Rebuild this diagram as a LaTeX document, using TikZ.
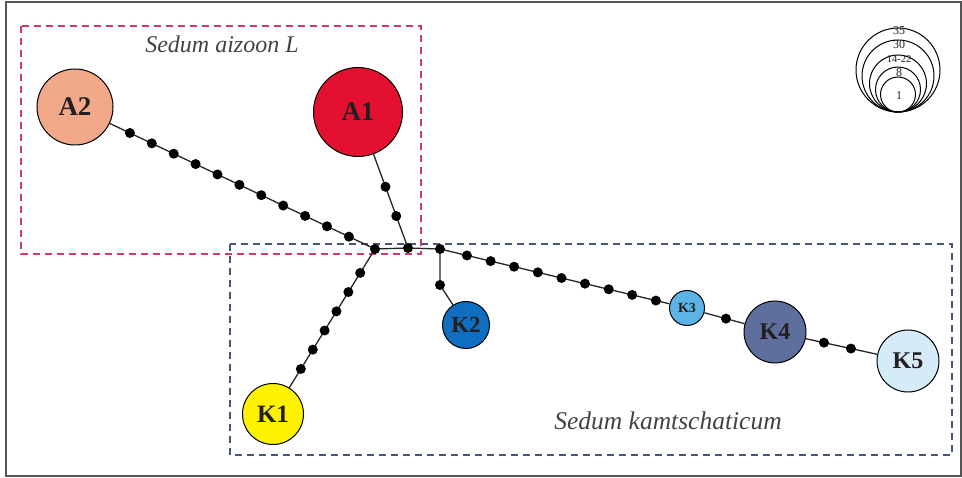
\documentclass[tikz,border=0pt]{standalone}
\usepackage{fontspec}
\setmainfont{Liberation Serif}
\usetikzlibrary{calc}
\definecolor{cA2}{HTML}{F2A98A}
\definecolor{cA1}{HTML}{E3112F}
\definecolor{cK1}{HTML}{FFF200}
\definecolor{cK2}{HTML}{0F6EBF}
\definecolor{cK3}{HTML}{5BB4E5}
\definecolor{cK4}{HTML}{5E6F9E}
\definecolor{cK5}{HTML}{D5EBF7}
\definecolor{dashred}{RGB}{205,60,105}
\definecolor{dashblue}{RGB}{75,85,120}
\definecolor{framec}{HTML}{555555}
\definecolor{txt}{HTML}{231F20}
\tikzset{
  hap/.style={circle,draw=black,line width=1pt,inner sep=0pt,text=txt,font=\bfseries},
  dot/.style={circle,fill=black,inner sep=0pt,minimum size=10pt},
  edge/.style={draw=black!85,line width=1.3pt},
  legc/.style={draw=black,line width=1pt},
  legt/.style={font=\fontsize{12}{12}\selectfont,text=txt,inner sep=0pt},
  species/.style={font=\itshape\fontsize{24}{24}\selectfont,text=txt!85},
  boxline/.style={line width=1.3pt,dash pattern=on 7pt off 5pt}
}
\begin{document}
\begin{tikzpicture}[x=1pt,y=-1pt]
\useasboundingbox (0,0) rectangle (962,478);
\draw[draw=framec,line width=1.5pt] (6,2) rectangle (961,476);
% species boxes
\draw[boxline,color=dashred] (21,26) rectangle (421,254);
\draw[boxline,color=dashblue] (230,244) rectangle (952,455);
\node[species] (sa) at (222,44) {Sedum aizoon L};
\node[species,font=\itshape\fontsize{25.5}{25.5}\selectfont] (sk) at (668,421) {Sedum kamtschaticum};
% haplotypes
\node[hap,fill=cA2,minimum size=76pt,font=\bfseries\fontsize{27}{27}\selectfont] (A2) at (75,107) {A2};
\node[hap,fill=cA1,minimum size=89pt,font=\bfseries\fontsize{27}{27}\selectfont] (A1) at (358,112) {A1};
\node[hap,fill=cK1,minimum size=61pt,font=\bfseries\fontsize{25}{25}\selectfont] (K1) at (273,414) {K1};
\node[hap,fill=cK2,minimum size=47pt,font=\bfseries\fontsize{23}{23}\selectfont] (K2) at (466,325) {K2};
\node[hap,fill=cK3,minimum size=35pt,font=\bfseries\fontsize{14}{14}\selectfont] (K3) at (687,308) {K3};
\node[hap,fill=cK4,minimum size=62pt,font=\bfseries\fontsize{24}{24}\selectfont] (K4) at (775,332) {K4};
\node[hap,fill=cK5,minimum size=62pt,font=\bfseries\fontsize{24}{24}\selectfont] (K5) at (908,361) {K5};
% hubs
\coordinate (h1) at (375,249);
\coordinate (h2) at (408,248);
\coordinate (h3) at (440,249);
\coordinate (k2d) at (440,285);
% connectors
\draw[edge] (A2) -- (h1);
\draw[edge] (A1) -- (h2);
\draw[edge] (h1) -- (h2) -- (h3);
\draw[edge] (h1) -- (K1);
\draw[edge] (h3) -- (k2d) -- (K2);
\draw[edge] (h3) -- (K3);
\draw[edge] (K3) -- (K4);
\draw[edge] (K4) -- (K5);
% dots
\node[dot] (n1) at (h1) {};
\node[dot] (n2) at (h2) {};
\node[dot] (n3) at (h3) {};
\node[dot] (n4) at (k2d) {};
\foreach \t [count=\i] in {0.183,0.256,0.329,0.402,0.475,0.548,0.621,0.694,0.767,0.840,0.913}
  \node[dot] (a2d\i) at ($(A2.center)!\t!(h1)$) {};
\foreach \t [count=\i] in {0.55,0.765}
  \node[dot] (a1d\i) at ($(A1.center)!\t!(h2)$) {};
\foreach \t [count=\i] in {0.145,0.261,0.378,0.494,0.610,0.727}
  \node[dot] (k1d\i) at ($(h1)!\t!(K1.center)$) {};
\foreach \t [count=\i] in {0.109,0.205,0.300,0.396,0.492,0.587,0.683,0.778,0.874}
  \node[dot] (k3d\i) at ($(h3)!\t!(K3.center)$) {};
\node[dot] (k4d) at ($(K3.center)!0.443!(K4.center)$) {};
\foreach \t [count=\i] in {0.368,0.571}
  \node[dot] (k5d\i) at ($(K4.center)!\t!(K5.center)$) {};
% legend
\node[legc,circle,minimum size=84pt,inner sep=0pt] (L35) at (898,70) {};
\node[legc,circle,minimum size=72pt,inner sep=0pt] (L30) at (898,76) {};
\node[legc,circle,minimum size=57pt,inner sep=0pt] (L14) at (898,83.5) {};
\node[legc,circle,minimum size=45pt,inner sep=0pt] (L8) at (898,89.5) {};
\node[legc,circle,minimum size=35pt,inner sep=0pt] (L1) at (898,94.5) {};
\node[legt] at (899,30.5) {35};
\node[legt] at (899,45) {30};
\node[legt,font=\fontsize{10.5}{10.5}\selectfont] at (899,59.5) {14-22};
\node[legt] at (899,72.5) {8};
\node[legt] at (899,96) {1};
\end{tikzpicture}
\end{document}
